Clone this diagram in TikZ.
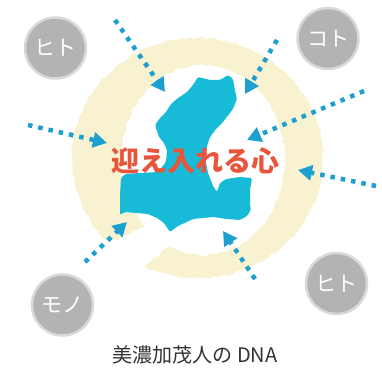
\documentclass[tikz,border=0pt]{standalone}
\usepackage{fontspec}
\newfontfamily\jpfont{Noto Sans CJK JP}
\usetikzlibrary{arrows.meta,decorations.pathmorphing}
\definecolor{ringyellow}{HTML}{F8F2D0}
\definecolor{mapcyan}{HTML}{17BBD8}
\definecolor{flowblue}{HTML}{1D9FD0}
\definecolor{heartred}{HTML}{E8553A}
\definecolor{thinggray}{HTML}{B2B3B5}
\definecolor{dnagray}{HTML}{333333}
\begin{document}
\begin{tikzpicture}[x=1pt, y=1pt,
    thing/.style={circle, fill=thinggray, draw=thinggray!50, line width=2.5pt, minimum size=61pt, inner sep=0pt, text=white, font=\jpfont\fontsize{21}{21}\selectfont},
    inflow/.style={draw=flowblue, line width=4.5pt, dash pattern=on 4.5pt off 6pt, -{Triangle[length=14pt,width=15pt]}},
    brush/.style={fill=ringyellow, decorate, decoration={random steps, segment length=3pt, amplitude=1.2pt}}]
    \useasboundingbox (0,0) rectangle (382,-371);
    \path[brush] (144.5,-266.8) arc[start angle=245, end angle=585, x radius=125.5, y radius=120]
        -- (145,-227.2) arc[start angle=225, end angle=-115, x radius=82, y radius=95] -- cycle;
    \fill[mapcyan, rounded corners=1.5pt] (198,-77) -- (210,-80) -- (220,-80) -- (228,-75) -- (233,-79) -- (235,-91) -- (237,-99)
        -- (233,-109) -- (223,-122) -- (216,-129) -- (210,-137) -- (207,-146) -- (205,-158) -- (208,-173) -- (213,-186)
        -- (217,-192) -- (220,-183) -- (226,-179) -- (240,-177) -- (252,-178) -- (250,-190) -- (250,-205) -- (251,-210)
        -- (247,-216) -- (240,-220) -- (227,-219) -- (213,-217) -- (193,-219) -- (178,-226) -- (170,-232) -- (164,-223)
        -- (157,-218) -- (148,-214) -- (137,-213) -- (125,-212) -- (120,-215) -- (120,-195) -- (121,-178) -- (125,-174)
        -- (140,-173) -- (158,-172) -- (166,-162) -- (167,-150) -- (164,-143) -- (159,-137) -- (155,-125) -- (160,-118)
        -- (166,-112) -- (171,-104) -- (178,-98) -- (187,-92) -- (193,-85) -- cycle;
    \node [thing] (hitoA) at (55.5,-48) {ヒト};
    \node [thing] (koto) at (328,-38.5) {コト};
    \node [thing] (mono) at (62.5,-305) {モノ};
    \node [thing] (hitoB) at (336.5,-283.5) {ヒト};
    \coordinate (topS) at (115,-20);  \coordinate (topE) at (165,-92);
    \coordinate (trS) at (277,-40);   \coordinate (trE) at (245,-94);
    \coordinate (rS) at (364,-91);    \coordinate (rE) at (247,-140);
    \coordinate (lrS) at (376,-186);  \coordinate (lrE) at (298,-170);
    \coordinate (brS) at (255,-279);  \coordinate (brE) at (223,-231);
    \coordinate (blS) at (85,-262);   \coordinate (blE) at (127,-222);
    \coordinate (lS) at (28,-125);    \coordinate (lE) at (107,-143);
    \path[inflow] (topS) -- (topE);
    \path[inflow] (trS) -- (trE);
    \path[inflow] (rS) -- (rE);
    \path[inflow] (lrS) -- (lrE);
    \path[inflow] (brS) -- (brE);
    \path[inflow] (blS) -- (blE);
    \path[inflow] (lS) -- (lE);
    \node [text=heartred, font=\jpfont\bfseries\fontsize{28}{28}\selectfont] (kokoro) at (195,-161) {迎え入れる心};
    \node [text=dnagray, font=\jpfont\fontsize{20}{20}\selectfont] (dna) at (195,-355) {美濃加茂人の DNA};
\end{tikzpicture}
\end{document}
